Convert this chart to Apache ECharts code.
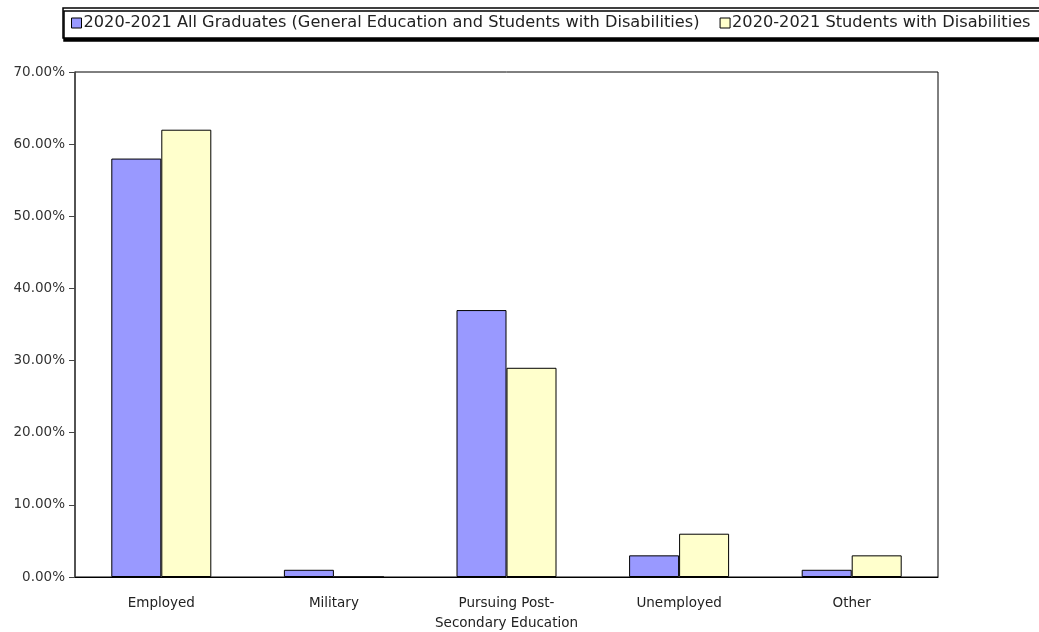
<!DOCTYPE html>
<html><head><meta charset="utf-8">
<script src="https://cdn.jsdelivr.net/npm/echarts@6/dist/echarts.min.js"></script>
<style>html,body{margin:0;padding:0;background:#fff}#c{width:1039px;height:632px}</style>
</head><body><div id="c"></div>
<script>
const categories = ["Employed", "Military", "Pursuing Post-\nSecondary Education", "Unemployed", "Other"];
const seriesNames = ["2020-2021 All Graduates (General Education and Students with Disabilities)", "2020-2021 Students with Disabilities"];
const allGraduates = [58, 1, 37, 3, 1];
const studentsWithDisabilities = [62, 0, 29, 6, 3];
const yTicks = [0, 10, 20, 30, 40, 50, 60, 70];

const FONT = 'DejaVu Sans, Verdana, sans-serif';
const chart = echarts.init(document.getElementById('c'));
chart.setOption({
  animation: false,
  backgroundColor: '#fff',
  textStyle: { fontFamily: FONT },
  legend: {
    left: 63, top: 8, width: 1100,
    padding: [7, 40, 7, 8],
    itemGap: 20,
    itemWidth: 10, itemHeight: 10,
    icon: 'rect',
    borderColor: '#000', borderWidth: 1.5,
    backgroundColor: '#fff',
    shadowColor: '#000', shadowOffsetY: 3, shadowOffsetX: 1, shadowBlur: 0,
    textStyle: { fontSize: 16.2, color: '#222', fontFamily: FONT, padding: [0, 0, 0, -3] },
    data: seriesNames.map(n => ({ name: n, itemStyle: { borderColor: '#000', borderWidth: 1 } }))
  },
  grid: { left: 75, right: 101, top: 72, bottom: 55, outerBoundsMode: 'none', containLabel: false,
          show: true, borderColor: '#000', borderWidth: 1, backgroundColor: 'transparent' },
  xAxis: {
    type: 'category', data: categories,
    axisLine: { lineStyle: { color: '#000', width: 1 } },
    axisTick: { show: false },
    axisLabel: { color: '#222', fontSize: 13.5, fontFamily: FONT, margin: 16, lineHeight: 20, interval: 0 }
  },
  yAxis: {
    type: 'value', min: 0, max: 70, interval: 10,
    axisLine: { show: true, lineStyle: { color: '#444', width: 1.5 } },
    axisTick: { show: true, length: 6, lineStyle: { color: '#444' } },
    splitLine: { show: false },
    axisLabel: { color: '#333', fontSize: 13.5, fontFamily: FONT, margin: 10, formatter: v => yTicks.includes(v) ? v.toFixed(2) + '%' : '' }
  },
  series: [
    { name: seriesNames[0], type: 'bar', data: allGraduates, barWidth: 50, barGap: '0%',
      itemStyle: { color: '#9999FF', borderColor: '#000', borderWidth: 1 } },
    { name: seriesNames[1], type: 'bar', data: studentsWithDisabilities, barWidth: 50, barGap: '0%',
      itemStyle: { color: '#FFFFCC', borderColor: '#000', borderWidth: 1 } }
  ]
});
</script></body></html>
